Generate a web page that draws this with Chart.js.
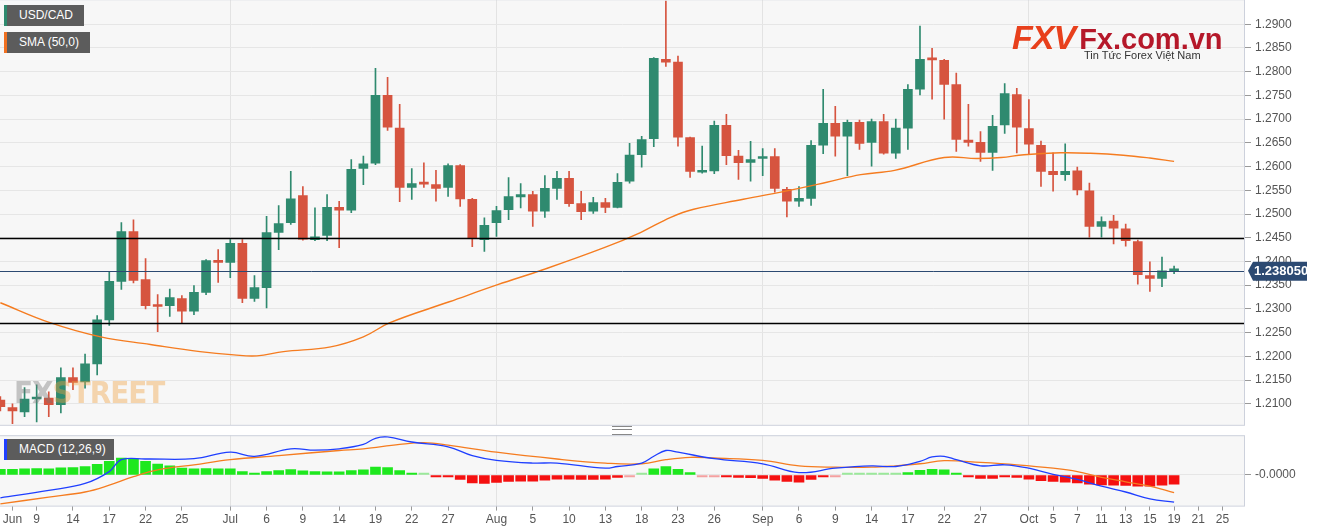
<!DOCTYPE html>
<html><head><meta charset="utf-8">
<script src="https://cdn.jsdelivr.net/npm/chart.js@4.4.1/dist/chart.umd.min.js"></script>
<style>
html,body{margin:0;padding:0;background:#fff;width:1323px;height:529px;overflow:hidden;font-family:"Liberation Sans",Arial,sans-serif;position:relative}
canvas{position:absolute;left:0}
#c1{top:-12px}#c2{top:424px}
.tag{position:absolute;left:4px;height:21px;line-height:21px;background:#5c5c5c;color:#fff;font-size:12px;padding:0 0 0 12px;border-left:3px solid #2e8a6e;box-sizing:border-box;white-space:nowrap;overflow:hidden}
.wm{position:absolute;left:14px;top:374px;font:bold 31px "DejaVu Sans Condensed","Liberation Sans Narrow",sans-serif;letter-spacing:-1px;opacity:.4}
.logo{position:absolute;left:1012px;top:18px;white-space:nowrap}
.sep{position:absolute;left:612px;top:426px;width:20px;height:7px;border-top:1px solid #888;border-bottom:1px solid #888}
.sep:after{content:"";position:absolute;left:0;top:2px;width:20px;border-top:1px solid #888}
</style></head><body>
<canvas id="c1" width="1323" height="448"></canvas>
<canvas id="c2" width="1323" height="105"></canvas>
<div class="tag" style="top:5px;width:80px">USD/CAD</div>
<div class="tag" style="top:32px;width:86px;border-left-color:#f07020">SMA (50,0)</div>
<div class="tag" style="top:439px;width:110px;border-left-color:#1f3fff">MACD (12,26,9)</div>
<div class="wm"><span style="color:#777">FX</span><span style="color:#f0a040">STREET</span></div>
<div class="logo"><span style="font:italic bold 34px 'Liberation Sans',sans-serif;color:#e8401c;letter-spacing:-1px">FXV</span><span style="font:bold 29px 'Liberation Sans',sans-serif;color:#b5182a;margin-left:4px">Fx.com.vn</span>
<div style="position:absolute;left:72px;top:31px;font:11px 'Liberation Sans',sans-serif;color:#333">Tin Tức Forex Việt Nam</div></div>
<div class="sep"></div>
<script>
// ---- DATA ----
const opens  = [1.2108,1.2092,1.2083,1.2110,1.2112,1.2098,1.2155,1.2146,1.2184,1.2277,1.2358,1.2463,1.2362,1.2308,1.2307,1.2322,1.2295,1.2335,1.2402,1.2398,1.2438,1.2322,1.2345,1.2461,1.2482,1.2539,1.2446,1.2455,1.2514,1.2508,1.2596,1.2607,1.2750,1.2681,1.2556,1.2567,1.2562,1.2556,1.2602,1.2531,1.2446,1.2482,1.2509,1.2536,1.2541,1.2506,1.2554,1.2575,1.2522,1.2506,1.2524,1.2514,1.2569,1.2625,1.2659,1.2826,1.2820,1.2661,1.2588,1.2591,1.2687,1.2622,1.2609,1.2617,1.2621,1.2552,1.2527,1.2533,1.2645,1.2691,1.2664,1.2693,1.2651,1.2695,1.2628,1.2681,1.2763,1.2829,1.2824,1.2773,1.2656,1.2651,1.2630,1.2688,1.2752,1.2680,1.2645,1.2590,1.2583,1.2591,1.2549,1.2474,1.2485,1.2469,1.2442,1.2370,1.2364,1.2380];
const highs  = [1.2115,1.2100,1.2134,1.2140,1.2125,1.2176,1.2176,1.2205,1.2286,1.2379,1.2482,1.2488,1.2406,1.2330,1.2342,1.2328,1.2349,1.2404,1.2425,1.2446,1.2446,1.2370,1.2495,1.2518,1.2590,1.2558,1.2513,1.2541,1.2527,1.2615,1.2622,1.2807,1.2788,1.2731,1.2596,1.2608,1.2592,1.2606,1.2604,1.2533,1.2492,1.2516,1.2577,1.2564,1.2548,1.2581,1.2590,1.2590,1.2548,1.2535,1.2533,1.2585,1.2649,1.2664,1.2830,1.2949,1.2833,1.2662,1.2643,1.2696,1.2710,1.2634,1.2653,1.2638,1.2638,1.2556,1.2558,1.2655,1.2763,1.2727,1.2698,1.2698,1.2700,1.2710,1.2700,1.2773,1.2896,1.2849,1.2826,1.2797,1.2731,1.2674,1.2708,1.2775,1.2765,1.2741,1.2654,1.2629,1.2648,1.2599,1.2565,1.2494,1.2497,1.2479,1.2445,1.2399,1.2409,1.2390];
const lows   = [1.2085,1.2058,1.2073,1.2062,1.2073,1.2081,1.2130,1.2133,1.2161,1.2265,1.2341,1.2355,1.2300,1.2252,1.2284,1.2271,1.2288,1.2330,1.2356,1.2366,1.2313,1.2316,1.2302,1.2425,1.2478,1.2445,1.2444,1.2444,1.2429,1.2503,1.2562,1.2604,1.2676,1.2526,1.2531,1.2556,1.2527,1.2537,1.2516,1.2431,1.2421,1.2453,1.2488,1.2513,1.2474,1.2493,1.2531,1.2516,1.2488,1.2501,1.2503,1.2513,1.2565,1.2599,1.2642,1.2811,1.2643,1.2577,1.2586,1.2585,1.2604,1.2573,1.2569,1.2581,1.2546,1.2494,1.2516,1.2518,1.2627,1.2622,1.2581,1.2636,1.2601,1.2626,1.2617,1.2636,1.2751,1.2742,1.2700,1.2632,1.2643,1.2611,1.2592,1.2670,1.2629,1.2625,1.2558,1.2548,1.2571,1.2540,1.2451,1.2451,1.2437,1.2432,1.2352,1.2337,1.2347,1.2374];
const closes = [1.2094,1.2085,1.2110,1.2112,1.2098,1.2155,1.2145,1.2184,1.2277,1.2358,1.2463,1.2360,1.2307,1.2305,1.2324,1.2295,1.2335,1.2402,1.2398,1.2438,1.2322,1.2345,1.2461,1.2480,1.2532,1.2447,1.2452,1.2514,1.2508,1.2594,1.2606,1.2750,1.2683,1.2556,1.2564,1.2563,1.2554,1.2602,1.2532,1.2448,1.2476,1.2507,1.2537,1.2541,1.2506,1.2554,1.2575,1.2522,1.2505,1.2524,1.2514,1.2567,1.2624,1.2657,1.2828,1.2820,1.2662,1.2590,1.2591,1.2687,1.2623,1.2608,1.2615,1.2621,1.2554,1.2527,1.2533,1.2645,1.2691,1.2664,1.2693,1.2649,1.2695,1.2628,1.2681,1.2763,1.2826,1.2825,1.2773,1.2657,1.2651,1.2630,1.2685,1.2754,1.2683,1.2647,1.2590,1.2583,1.2590,1.2551,1.2474,1.2484,1.2470,1.2444,1.2372,1.2364,1.2380,1.23805];
const smaIdx = [0,4.1,8.3,12.4,16.5,19.3,21.2,23.4,27.3,30,32.2,37.1,41.1,44.9,49.9,52.9,55.4,57.3,61.4,65.6,68.3,71.1,73.9,78,80.7,82.7,84.6,87.6,90.1,92.8,95,97];
const smaVal = [1.2313,1.2271,1.2241,1.2225,1.2210,1.2203,1.2201,1.2210,1.2220,1.2241,1.2271,1.2315,1.2351,1.2383,1.2429,1.2461,1.2493,1.2510,1.2531,1.2552,1.2567,1.2583,1.2592,1.2619,1.2617,1.2619,1.2625,1.2629,1.2628,1.2624,1.2618,1.2611];
// MACD in units of 0.0001
const macdHist = [17,17,18,19,18,21,22,25,31,40,50,47,40,32,27,20,18,19,18,18,10,5,10,13,16,12,10,9,9,13,15,23,22,13,5,1,-5,-5,-13,-23,-25,-22,-19,-18,-18,-15,-12,-12,-13,-13,-12,-7,-2,2,18,25,17,7,-1,-1,-3,-7,-8,-10,-15,-19,-21,-13,-6,-2,1,1,2,1,1,7,14,17,15,4,-3,-10,-10,-5,-7,-12,-17,-19,-21,-23,-27,-29,-30,-31,-33,-33,-30,-27];
const macdIdx = [0,4,7,9,10,12,16,19,21,24,26,28,30,31,32,34,37,39,41,44,46,50,51,53,54,55,56,59,63,66,69,72,74,76,77,78,79,81,83,85,87,89,91,93,95,97];
const macdVal = [-67,-45,-25,10,45,47,48,67,55,77,73,77,90,108,112,97,83,57,43,35,35,20,25,35,55,72,67,48,33,7,20,27,25,40,53,55,45,27,30,20,2,-13,-33,-50,-70,-80];
const sigIdx = [0,4,7,9,11,13,16,19,23,28,30,33,35,37,41,46,50,53,55,57,59,63,66,69,72,74,76,78,81,84,87,89,91,93,95,97];
const sigVal = [-85,-65,-50,-30,-5,15,30,45,57,72,77,90,95,88,67,47,35,33,45,52,50,43,27,23,23,27,33,42,37,30,20,10,-7,-20,-33,-52];
const tickIdx  = [1,3,6,9,12,15,19,22,25,28,31,34,37,41,44,47,50,53,56,59,63,66,69,72,75,78,81,85,87,89,91,93,95,97,99,101];
const tickText = ['Jun','9','14','17','22','25','Jul','6','9','14','19','22','27','Aug','5','10','13','18','23','26','Sep','6','9','14','17','22','27','Oct','5','7','11','13','15','19','21','25'];
const monthIdx = [19,41,63,85];
const priceTicks = [1.29,1.285,1.28,1.275,1.27,1.265,1.26,1.255,1.25,1.245,1.24,1.235,1.23,1.225,1.22,1.215,1.21];
const levels = [1.2450,1.2270];
const lastPrice = 1.23805;

const UP='#2f8a6f', DN='#d6543f';
const XMIN=-0.03, XMAX=102.86;
const font={family:'"Liberation Sans", Arial, sans-serif',size:12};
const cols = closes.map((c,i)=>c>=opens[i]?UP:DN);

const bgPlugin={id:'bg',beforeDraw(ch){const a=ch.chartArea,c=ch.ctx;c.save();c.fillStyle='#f7f7f7';c.fillRect(a.left,a.top,a.right-a.left,a.bottom-a.top);c.restore();},
 afterDraw(ch){const a=ch.chartArea,c=ch.ctx;c.save();c.strokeStyle='#cdd1dc';c.lineWidth=1;c.strokeRect(a.left-0.5,a.top+0.5,a.right-a.left,a.bottom-a.top);c.restore();}};

const levelPlugin={id:'lv',afterDatasetsDraw(ch){const y=ch.scales.y,a=ch.chartArea,c=ch.ctx;c.save();
 c.strokeStyle='#000';c.lineWidth=1.3;levels.forEach(v=>{const p=Math.round(y.getPixelForValue(v))+0.5;c.beginPath();c.moveTo(a.left,p);c.lineTo(a.right,p);c.stroke();});
 const p=Math.round(y.getPixelForValue(lastPrice))+0.5;c.strokeStyle='#2c4a72';c.lineWidth=1;c.beginPath();c.moveTo(a.left,p);c.lineTo(a.right,p);c.stroke();c.restore();},
 afterDraw(ch){const y=ch.scales.y,a=ch.chartArea,c=ch.ctx;const p=y.getPixelForValue(lastPrice);c.save();c.fillStyle='#2c4a72';
 c.beginPath();c.moveTo(a.right+3,p);c.lineTo(a.right+8,p-9);c.lineTo(a.right+62,p-9);c.lineTo(a.right+62,p+10);c.lineTo(a.right+8,p+10);c.closePath();c.fill();
 c.fillStyle='#fff';c.font='bold 13px "Liberation Sans", Arial';c.textBaseline='middle';c.fillText(lastPrice.toFixed(6),a.right+9,p+1);c.restore();}};

new Chart(document.getElementById('c1'),{
 type:'bar',
 data:{datasets:[
  {type:'line',data:smaIdx.map((x,i)=>({x,y:smaVal[i]})),borderColor:'#f57c20',borderWidth:1.4,pointRadius:0,tension:0.4,order:0},
  {data:opens.map((o,i)=>({x:i,y:[lows[i],highs[i]]})),backgroundColor:cols,barThickness:1,grouped:false,order:2},
  {data:opens.map((o,i)=>({x:i,y:[o,closes[i]]})),backgroundColor:cols,barThickness:9,minBarLength:2,grouped:false,order:1}
 ]},
 options:{responsive:false,animation:false,devicePixelRatio:1,
  layout:{padding:{left:0,right:0,top:0,bottom:5}},
  plugins:{legend:{display:false},tooltip:{enabled:false}},
  scales:{
   x:{type:'linear',offset:false,min:XMIN,max:XMAX,afterBuildTicks:s=>{s.ticks=monthIdx.map(v=>({value:v}));},
      ticks:{display:false},grid:{offset:false,color:'#e3e3e3',drawTicks:false},border:{display:false},afterFit:s=>{s.height=0;}},
   y:{position:'right',min:1.20557,max:1.29528,afterBuildTicks:s=>{s.ticks=priceTicks.map(v=>({value:v}));},
      afterFit:s=>{s.width=78;},
      ticks:{color:'#555',font,padding:4,callback:v=>v.toFixed(4)},
      grid:{color:'#e6e6e6',tickColor:'#999',tickLength:6},border:{display:false}}
  }},
 plugins:[bgPlugin,levelPlugin]
});

const hc = macdHist.map(v=>v>0?(v<=2?'#9be89b':'#1ee81e'):(v>=-2?'#f4a0a0':'#f51010'));
new Chart(document.getElementById('c2'),{
 type:'bar',
 data:{datasets:[
  {type:'line',data:macdIdx.map((x,i)=>({x,y:macdVal[i]})),borderColor:'#1f3fff',borderWidth:1.3,pointRadius:0,tension:0.4,order:0},
  {type:'line',data:sigIdx.map((x,i)=>({x,y:sigVal[i]})),borderColor:'#f57c20',borderWidth:1.3,pointRadius:0,tension:0.4,order:1},
  {data:macdHist.map((v,i)=>({x:i,y:v})),backgroundColor:hc,barThickness:10,minBarLength:2,order:2}
 ]},
 options:{responsive:false,animation:false,devicePixelRatio:1,
  layout:{padding:{left:0,right:0,top:5,bottom:0}},
  plugins:{legend:{display:false},tooltip:{enabled:false}},
  scales:{
   x:{type:'linear',offset:false,min:XMIN,max:XMAX,afterBuildTicks:s=>{s.ticks=tickIdx.map(v=>({value:v}));},
      ticks:{color:'#555',font,padding:2,maxRotation:0,autoSkip:false,callback:(v)=>{const k=tickIdx.indexOf(v);return k>=0?tickText[k]:'';}},
      grid:{offset:false,color:c=>monthIdx.includes(c.tick&&c.tick.value)?'#e3e3e3':'rgba(0,0,0,0)',tickColor:'#999',tickLength:5},border:{display:false}},
   y:{position:'right',min:-90,max:117,afterBuildTicks:s=>{s.ticks=[{value:0}];},afterFit:s=>{s.width=78;},
      ticks:{color:'#555',font,padding:4,callback:()=>'-0.0000'},
      grid:{color:'#e6e6e6',tickColor:'#999',tickLength:6},border:{display:false}}
  }},
 plugins:[bgPlugin]
});
</script>
</body></html>
